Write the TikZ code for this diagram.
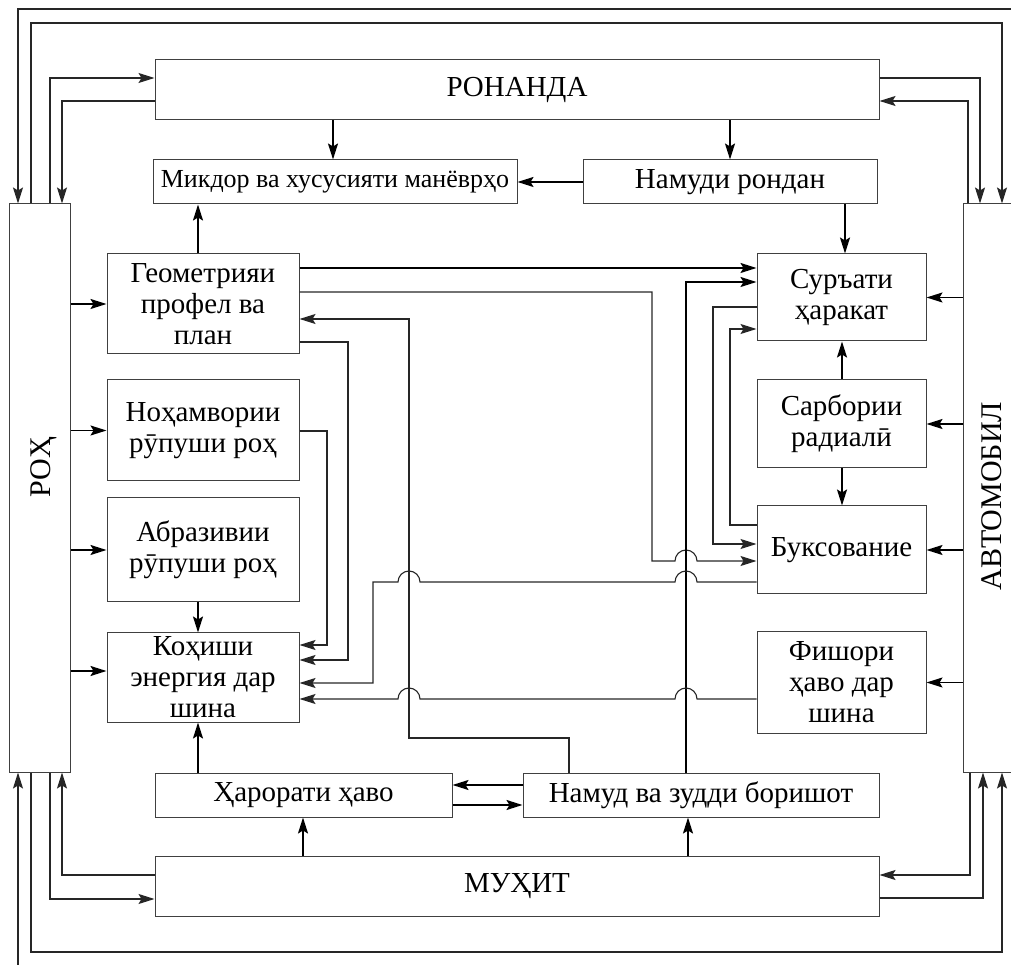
\documentclass[tikz,border=0pt]{standalone}
\usepackage{fontspec}
\setmainfont{Liberation Serif}
\usetikzlibrary{arrows.meta,positioning}

\begin{document}
\begin{tikzpicture}[x=1pt,y=1pt]
	\tikzstyle{block} = [draw=black!75, line width=1pt, inner sep=0pt, align=center, font=\fontsize{29}{31}\selectfont];
	\tikzstyle{sidelabel} = [rotate=90, inner sep=0pt, font=\fontsize{30}{32}\selectfont];
	\tikzstyle{wire} = [draw=black!85, line width=1.1pt, -{Stealth[length=16pt,width=10pt,inset=3pt]}];
	\tikzstyle{link} = [draw=black, line width=1.7pt, -{Stealth[length=16pt,width=10pt,inset=3pt]}];
	\useasboundingbox (0,0) rectangle (1011,964);
	
	% outer blocks
	\node[block, minimum width=61pt, minimum height=568pt] (roh) at (39.5,476) {};
	\node[sidelabel] (rohtext) at (44,497) {РОҲ};
	\node[block, minimum width=57pt, minimum height=568pt] (avto) at (991.5,476) {};
	\node[sidelabel] (avtotext) at (992,468) {АВТОМОБИЛ};
	\node[block, minimum width=724pt, minimum height=60pt] (ronanda) at (517,874) {РОНАНДА};
	\node[block, minimum width=724pt, minimum height=60pt] (muhit) at (517,78) {МУҲИТ};
	
	% inner blocks
	\node[block, minimum width=364pt, minimum height=44pt, font=\fontsize{26}{28}\selectfont] (mikdor) at (335,782) {Микдор ва хусусияти манёврҳо};
	\node[block, minimum width=294pt, minimum height=44pt] (namudi) at (730,782) {Намуди рондан};
	\node[block, minimum width=192pt, minimum height=100pt] (geom) at (203,660) {Геометрияи\\профел ва\\план};
	\node[block, minimum width=192pt, minimum height=101pt] (nohamv) at (203,533.5) {Ноҳамвории\\рӯпуши роҳ};
	\node[block, minimum width=192pt, minimum height=104pt] (abraz) at (203,414) {Абразивии\\рӯпуши роҳ};
	\node[block, minimum width=192pt, minimum height=89pt] (kohish) at (203,286.5) {Коҳиши\\энергия дар\\шина};
	\node[block, minimum width=297pt, minimum height=44pt] (harorat) at (303.5,169) {Ҳарорати ҳаво};
	\node[block, minimum width=356pt, minimum height=44pt] (borish) at (701,169) {Намуд ва зудди боришот};
	\node[block, minimum width=169pt, minimum height=87pt] (surat) at (841.5,666.5) {Суръати\\ҳаракат};
	\node[block, minimum width=169pt, minimum height=88pt] (sarbor) at (841.5,540) {Сарбории\\радиалӣ};
	\node[block, minimum width=169pt, minimum height=88pt] (buks) at (841.5,414) {Буксование};
	\node[block, minimum width=169pt, minimum height=101pt] (fishor) at (841.5,281.5) {Фишори\\ҳаво дар\\шина};
	
	% top loops
	\draw[wire] (avto.north -| 1015,0) -- (1015,955) -- (18,955) -- (roh.north -| 18,0);
	\draw[wire] (roh.north -| 31,0) -- (31,941) -- (1002,941) -- (avto.north -| 1002,0);
	\draw[wire] (roh.north -| 50,0) -- (50,886) -- (ronanda.west |- 0,886);
	\draw[wire] (ronanda.west |- 0,863) -- (62,863) -- (roh.north -| 62,0);
	\draw[wire] (ronanda.east |- 0,886) -- (980,886) -- (avto.north -| 980,0);
	\draw[wire] (avto.north -| 968,0) -- (968,863) -- (ronanda.east |- 0,863);
	
	% bottom loops
	\draw[wire] (avto.south -| 1015,0) -- (1015,-10) -- (18,-10) -- (roh.south -| 18,0);
	\draw[wire] (roh.south -| 31,0) -- (31,12) -- (1002,12) -- (avto.south -| 1002,0);
	\draw[wire] (roh.south -| 50,0) -- (50,65) -- (muhit.west |- 0,65);
	\draw[wire] (muhit.west |- 0,89) -- (62,89) -- (roh.south -| 62,0);
	\draw[wire] (avto.south -| 970,0) -- (970,89) -- (muhit.east |- 0,89);
	\draw[wire] (muhit.east |- 0,66) -- (983,66) -- (avto.south -| 983,0);
	
	% straight arrows
	\draw[link] (ronanda.south -| 333,0) -- (mikdor.north -| 333,0);
	\draw[link] (ronanda.south -| namudi.north) -- (namudi.north);
	\draw[link] (namudi.west) -- (mikdor.east);
	\draw[link] (namudi.south -| 845,0) -- (surat.north -| 845,0);
	\draw[link] (geom.north -| 198,0) -- (mikdor.south -| 198,0);
	\draw[link] (roh.east |- geom.west) -- (geom.west);
	\draw[link] (roh.east |- nohamv.west) -- (nohamv.west);
	\draw[link] (roh.east |- abraz.west) -- (abraz.west);
	\draw[link] (roh.east |- 0,293) -- (kohish.west |- 0,293);
	\draw[link] (abraz.south -| 198,0) -- (kohish.north -| 198,0);
	\draw[link] (harorat.north -| 198,0) -- (kohish.south -| 198,0);
	\draw[link] (muhit.north -| 303,0) -- (harorat.south -| 303,0);
	\draw[link] (muhit.north -| 688,0) -- (borish.south -| 688,0);
	\draw[link] (borish.west |- 0,179) -- (harorat.east |- 0,179);
	\draw[link] (harorat.east |- 0,159) -- (borish.west |- 0,159);
	\draw[link] (avto.west |- surat.east) -- (surat.east);
	\draw[link] (avto.west |- sarbor.east) -- (sarbor.east);
	\draw[link] (avto.west |- buks.east) -- (buks.east);
	\draw[link] (avto.west |- fishor.east) -- (fishor.east);
	\draw[link] (sarbor.north -| 842,0) -- (surat.south -| 842,0);
	\draw[link] (sarbor.south -| 842,0) -- (buks.north -| 842,0);
	
	% routed links
	\draw[link] (geom.east |- 0,696) -- (surat.west |- 0,696);
	\draw[wire] (geom.east |- 0,672) -- (652,672) -- (652,403) -- (675,403) arc[start angle=180, end angle=0, radius=11] -- (buks.west |- 0,403);
	\draw[wire] (borish.north -| 569,0) -- (569,226) -- (409,226) -- (409,645) -- (geom.east |- 0,645);
	\draw[wire] (geom.east |- 0,622) -- (348,622) -- (348,304) -- (kohish.east |- 0,304);
	\draw[wire] (nohamv.east |- 0,533) -- (327,533) -- (327,319) -- (kohish.east |- 0,319);
	\draw[link] (borish.north -| 686,0) -- (686,682) -- (surat.west |- 0,682);
	\draw[wire] (surat.west |- 0,657) -- (713,657) -- (713,420) -- (buks.west |- 0,420);
	\draw[wire] (buks.west |- 0,439) -- (730,439) -- (730,635) -- (surat.west |- 0,635);
	\draw[wire] (buks.west |- 0,382) -- (697,382) arc[start angle=0, end angle=180, radius=11] -- (420,382) arc[start angle=0, end angle=180, radius=11] -- (373,382) -- (373,281) -- (kohish.east |- 0,281);
	\draw[wire] (fishor.west |- 0,265) -- (697,265) arc[start angle=0, end angle=180, radius=11] -- (420,265) arc[start angle=0, end angle=180, radius=11] -- (kohish.east |- 0,265);
\end{tikzpicture}
\end{document}
